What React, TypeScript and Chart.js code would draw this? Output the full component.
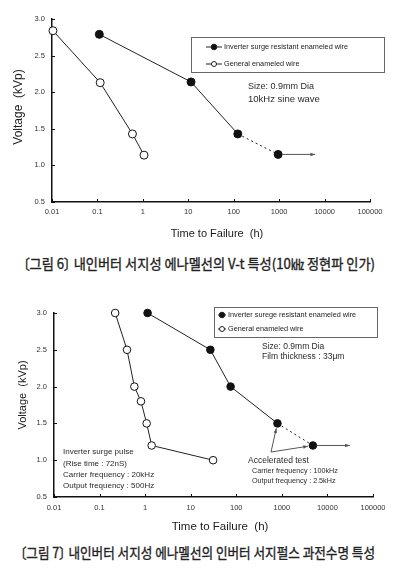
import React, { useEffect, useLayoutEffect, useRef } from "react";
import { Chart, registerables } from "chart.js";

Chart.register(...registerables);

// ---------- data ----------
const xTickValues = [0.01, 0.1, 1, 10, 100, 1000, 10000, 100000];
const xTickLabels = ["0.01", "0.1", "1", "10", "100", "1000", "10000", "100000"];
const yTickValues = [0.5, 1.0, 1.5, 2.0, 2.5, 3.0];
const yTickLabels = ["0.5", "1.0", "1.5", "2.0", "2.5", "3.0"];

// Fig. 6 – V-t characteristic (10 kHz sine wave)
const fig6SeriesNames = ["Inverter surge resistant enameled wire", "General enameled wire"];
const fig6InverterTime = [0.11, 11.5, 123, 950];
const fig6InverterVoltage = [2.79, 2.14, 1.43, 1.15];
const fig6InverterArrowTo = 6200;
const fig6GeneralTime = [0.0105, 0.115, 0.59, 1.06];
const fig6GeneralVoltage = [2.84, 2.13, 1.43, 1.14];

// Fig. 7 – inverter surge pulse life
const fig7SeriesNames = ["Inverter surege resistant enameled wire", "General enameled wire"];
const fig7InverterTime = [1.13, 27, 75, 800, 4800];
const fig7InverterVoltage = [3.0, 2.5, 2.0, 1.5, 1.2];
const fig7InverterArrowTo = 31000;
const fig7GeneralTime = [0.22, 0.4, 0.58, 0.81, 1.08, 1.39, 31];
const fig7GeneralVoltage = [3.0, 2.5, 2.0, 1.8, 1.5, 1.2, 1.0];

const caption6 = "〔그림 6〕 내인버터 서지성 에나멜선의 V-t 특성(10㎑ 정현파 인가)";
const caption7 = "〔그림 7〕 내인버터 서지성 에나멜선의 인버터 서지펄스 과전수명 특성";

// ---------- helpers ----------
const FONT = '"Liberation Sans", Arial, sans-serif';

function font(size: number) {
  return `${size}px ${FONT}`;
}

function arrow(ctx: CanvasRenderingContext2D, x1: number, y1: number, x2: number, y2: number) {
  ctx.save();
  ctx.strokeStyle = "#555";
  ctx.fillStyle = "#555";
  ctx.lineWidth = 1;
  ctx.beginPath();
  ctx.moveTo(x1, y1);
  ctx.lineTo(x2, y2);
  ctx.stroke();
  const a = Math.atan2(y2 - y1, x2 - x1);
  const L = 5;
  ctx.beginPath();
  ctx.moveTo(x2, y2);
  ctx.lineTo(x2 - L * Math.cos(a - 0.35), y2 - L * Math.sin(a - 0.35));
  ctx.lineTo(x2 - L * Math.cos(a + 0.35), y2 - L * Math.sin(a + 0.35));
  ctx.closePath();
  ctx.fill();
  ctx.restore();
}

function text(ctx: CanvasRenderingContext2D, t: string, x: number, y: number, size: number, color = "#2a2a2a") {
  ctx.save();
  ctx.font = font(size);
  ctx.fillStyle = color;
  ctx.textAlign = "left";
  ctx.textBaseline = "middle";
  ctx.fillText(t, x, y);
  ctx.restore();
}

function inwardTicks(chart: any) {
  const ctx = chart.ctx;
  const xs = chart.scales.x;
  const ys = chart.scales.y;
  const a = chart.chartArea;
  ctx.save();
  ctx.strokeStyle = "#111";
  ctx.lineWidth = 1;
  ctx.beginPath();
  xTickValues.forEach((v) => {
    const px = Math.round(xs.getPixelForValue(v)) + 0.5;
    ctx.moveTo(px, a.bottom);
    ctx.lineTo(px, a.bottom - 3);
  });
  yTickValues.forEach((v) => {
    const py = Math.round(ys.getPixelForValue(v)) + 0.5;
    ctx.moveTo(a.left, py);
    ctx.lineTo(a.left + 3, py);
  });
  ctx.stroke();
  ctx.restore();
}

function axisTitles(ctx: CanvasRenderingContext2D, yx: number, yy: number, ySize: number, xx: number, xy: number, xSize: number) {
  ctx.save();
  ctx.fillStyle = "#1a1a1a";
  ctx.textAlign = "center";
  ctx.textBaseline = "middle";
  ctx.font = font(xSize);
  ctx.fillText("Time to Failure  (h)", xx, xy);
  ctx.translate(yx, yy);
  ctx.rotate(-Math.PI / 2);
  ctx.font = font(ySize);
  ctx.fillText("Voltage  (kVp)", 0, 0);
  ctx.restore();
}

function legendBox(
  ctx: CanvasRenderingContext2D,
  names: string[],
  bx: number, by: number, bw: number, bh: number,
  rowY: number[], lx1: number, lx2: number, tx: number
) {
  ctx.save();
  ctx.strokeStyle = "#666";
  ctx.lineWidth = 1;
  ctx.strokeRect(bx + 0.5, by + 0.5, bw, bh);
  rowY.forEach((ry, i) => {
    ctx.strokeStyle = "#222";
    ctx.beginPath();
    ctx.moveTo(lx1, ry);
    ctx.lineTo(lx2, ry);
    ctx.stroke();
    ctx.beginPath();
    ctx.arc((lx1 + lx2) / 2, ry, i === 0 ? 2.8 : 2.5, 0, Math.PI * 2);
    ctx.fillStyle = i === 0 ? "#111" : "#fff";
    ctx.fill();
    ctx.stroke();
    text(ctx, names[i], tx, ry, 7.3, "#222");
  });
  ctx.restore();
}

interface BuildParams {
  names: string[];
  invT: number[];
  invV: number[];
  genT: number[];
  genV: number[];
  dashedFrom: number;
  padTop: number;
  padRight: number;
  yWidth: number;
  xHeight: number;
  xTickPad: number;
  radius: number;
  decor: (chart: any) => void;
}

function buildConfig(p: BuildParams): any {
  const pts = (xs: number[], ys: number[]) => xs.map((x, i) => ({ x, y: ys[i] }));
  return {
    type: "line",
    data: {
      datasets: [
        {
          label: p.names[0],
          data: pts(p.invT, p.invV),
          borderColor: "#222",
          borderWidth: 1,
          backgroundColor: "#111",
          pointBackgroundColor: "#111",
          pointBorderColor: "#111",
          pointBorderWidth: 1,
          pointRadius: p.radius,
          tension: 0,
          clip: false,
          segment: {
            borderDash: (c: any) => (c.p0DataIndex === p.dashedFrom ? [2, 3] : undefined),
          },
        },
        {
          label: p.names[1],
          data: pts(p.genT, p.genV),
          borderColor: "#222",
          borderWidth: 1,
          backgroundColor: "#fff",
          pointBackgroundColor: "#fff",
          pointBorderColor: "#111",
          pointBorderWidth: 1,
          pointRadius: p.radius,
          tension: 0,
          clip: false,
        },
      ],
    },
    options: {
      responsive: false,
      animation: false,
      devicePixelRatio: 1,
      layout: { padding: { left: 0, right: p.padRight, top: p.padTop, bottom: 0 } },
      plugins: { legend: { display: false }, tooltip: { enabled: false }, title: { display: false } },
      scales: {
        x: {
          type: "logarithmic",
          min: 0.01,
          max: 100000,
          afterBuildTicks: (s: any) => {
            s.ticks = xTickValues.map((v) => ({ value: v }));
          },
          afterFit: (s: any) => {
            s.height = p.xHeight;
          },
          ticks: {
            autoSkip: false,
            maxRotation: 0,
            padding: p.xTickPad,
            color: "#333",
            font: { family: FONT, size: 7.5 },
            callback: (_v: any, i: number) => xTickLabels[i],
          },
          grid: { display: true, drawOnChartArea: false, drawTicks: false },
          border: { display: true, color: "#111", width: 1.5 },
        },
        y: {
          type: "linear",
          min: 0.5,
          max: 3.0,
          afterBuildTicks: (s: any) => {
            s.ticks = yTickValues.map((v) => ({ value: v }));
          },
          afterFit: (s: any) => {
            s.width = p.yWidth;
          },
          ticks: {
            padding: 7,
            color: "#333",
            font: { family: FONT, size: 7.5 },
            callback: (_v: any, i: number) => yTickLabels[i],
          },
          grid: { display: true, drawOnChartArea: false, drawTicks: false },
          border: { display: true, color: "#111", width: 1.5 },
        },
      },
    },
    plugins: [
      {
        id: "decor",
        afterDraw: (chart: any) => p.decor(chart),
      },
    ],
  };
}

function fig6Config() {
  return buildConfig({
    names: fig6SeriesNames,
    invT: fig6InverterTime,
    invV: fig6InverterVoltage,
    genT: fig6GeneralTime,
    genV: fig6GeneralVoltage,
    dashedFrom: 2,
    padTop: 19,
    padRight: 28,
    yWidth: 52,
    xHeight: 48,
    xTickPad: 5,
    radius: 4,
    decor: (chart) => {
      const ctx = chart.ctx;
      const xs = chart.scales.x;
      inwardTicks(chart);
      const meta = chart.getDatasetMeta(0);
      const last = meta.data[meta.data.length - 1];
      arrow(ctx, last.x + 4, last.y, xs.getPixelForValue(fig6InverterArrowTo), last.y);
      axisTitles(ctx, 19, 107, 12, 217, 234, 11);
      legendBox(ctx, fig6SeriesNames, 191, 37, 193, 35, [47, 64], 206, 222, 224);
      text(ctx, "Size: 0.9mm Dia", 248, 87, 9);
      text(ctx, "10kHz sine wave", 248, 99, 9.5);
    },
  });
}

function fig7Config() {
  return buildConfig({
    names: fig7SeriesNames,
    invT: fig7InverterTime,
    invV: fig7InverterVoltage,
    genT: fig7GeneralTime,
    genV: fig7GeneralVoltage,
    dashedFrom: 3,
    padTop: 23,
    padRight: 25,
    yWidth: 54,
    xHeight: 43,
    xTickPad: 6,
    radius: 3.8,
    decor: (chart) => {
      const ctx = chart.ctx;
      const xs = chart.scales.x;
      inwardTicks(chart);
      const meta = chart.getDatasetMeta(0);
      const n = meta.data.length;
      const last = meta.data[n - 1];
      arrow(ctx, last.x + 4, last.y, xs.getPixelForValue(fig7InverterArrowTo), last.y);
      // accelerated-test pointers
      const ox = 271, oy = 162;
      [meta.data[n - 2], meta.data[n - 1]].forEach((pt: any) => {
        const dx = pt.x - ox, dy = pt.y - oy;
        const d = Math.hypot(dx, dy);
        arrow(ctx, ox, oy, pt.x - (dx / d) * 5, pt.y - (dy / d) * 5);
      });
      axisTitles(ctx, 23, 105, 11, 220, 237, 11.5);
      legendBox(ctx, fig7SeriesNames, 214, 17, 163, 30, [25, 39], 218, 226, 228);
      text(ctx, "Size: 0.9mm Dia", 262, 57, 8.5);
      text(ctx, "Film thickness : 33μm", 262, 67, 8.5);
      text(ctx, "Accelerated test", 248, 171, 8.5);
      text(ctx, "Carrier frequency : 100kHz", 252, 181, 7.2);
      text(ctx, "Output frequency : 2.5kHz", 252, 191, 7.2);
      text(ctx, "Inverter surge pulse", 63, 162, 8);
      text(ctx, "(Rise time : 72nS)", 63, 174, 8);
      text(ctx, "Carrier frequency : 20kHz", 63, 185, 8);
      text(ctx, "Output frequency : 500Hz", 63, 196, 8);
    },
  });
}

function Caption({ value, left, width, centerY }: { value: string; left: number; width: number; centerY: number }) {
  const ref = useRef<HTMLSpanElement>(null);
  useLayoutEffect(() => {
    const fit = () => {
      const el = ref.current;
      if (!el) return;
      el.style.transform = "none";
      const w = el.getBoundingClientRect().width;
      if (w > 0) el.style.transform = `scaleX(${width / w})`;
    };
    fit();
    if ((document as any).fonts && (document as any).fonts.ready) {
      (document as any).fonts.ready.then(fit);
    }
  }, [value, width]);
  return (
    <span
      ref={ref}
      style={{
        position: "absolute",
        left,
        top: centerY - 10,
        height: 20,
        lineHeight: "20px",
        fontSize: 14,
        fontWeight: 400,
        WebkitTextStroke: "0.35px #222",
        fontFeatureSettings: '"palt"',
        whiteSpace: "nowrap",
        transformOrigin: "left center",
        fontFamily: '"Noto Sans CJK KR", "Noto Sans", sans-serif',
        color: "#222",
      }}
    >
      {value}
    </span>
  );
}

export default function App() {
  const c1 = useRef<HTMLCanvasElement>(null);
  const c2 = useRef<HTMLCanvasElement>(null);

  useEffect(() => {
    const ch1 = new Chart(c1.current as HTMLCanvasElement, fig6Config());
    const ch2 = new Chart(c2.current as HTMLCanvasElement, fig7Config());
    return () => {
      ch1.destroy();
      ch2.destroy();
    };
  }, []);

  return (
    <div
      style={{
        position: "absolute",
        left: 0,
        top: 0,
        width: 398,
        height: 569,
        background: "#fff",
        overflow: "hidden",
      }}
    >
      <canvas
        ref={c1}
        width={398}
        height={250}
        style={{ position: "absolute", left: 0, top: 0, width: 398, height: 250 }}
      />
      <Caption value={caption6} left={23} width={352} centerY={262.5} />
      <canvas
        ref={c2}
        width={398}
        height={250}
        style={{ position: "absolute", left: 0, top: 290, width: 398, height: 250 }}
      />
      <Caption value={caption7} left={20} width={355} centerY={552} />
    </div>
  );
}
